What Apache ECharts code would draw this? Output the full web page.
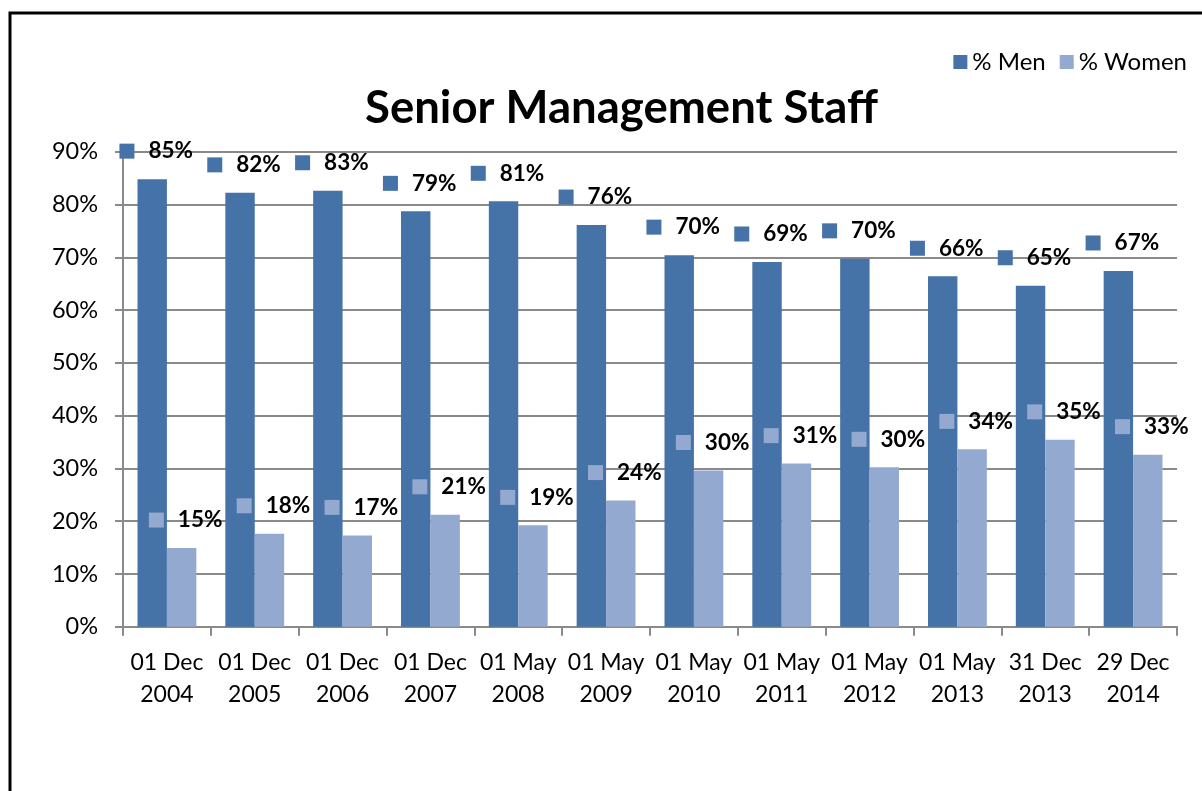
<!DOCTYPE html>
<html>
<head>
<meta charset="utf-8">
<script src="https://cdn.jsdelivr.net/npm/echarts@6/dist/echarts.min.js"></script>
<style>
html,body{margin:0;padding:0;background:#fff;}
#chart{width:1202px;height:791px;}
</style>
</head>
<body>
<div id="chart"></div>
<script>
var categories = ['01 Dec\n2004','01 Dec\n2005','01 Dec\n2006','01 Dec\n2007','01 May\n2008','01 May\n2009','01 May\n2010','01 May\n2011','01 May\n2012','01 May\n2013','31 Dec\n2013','29 Dec\n2014'];
var men = [84.8, 82.2, 82.6, 78.7, 80.6, 76.1, 70.4, 69.1, 69.7, 66.4, 64.6, 67.4];
var women = [14.9, 17.6, 17.3, 21.2, 19.2, 23.9, 29.6, 30.9, 30.2, 33.6, 35.4, 32.6];
var seriesNames = ['% Men', '% Women'];
var titleText = 'Senior Management Staff';

var MEN_COLOR = '#4572A7';
var WOMEN_COLOR = '#93A9CF';
var FONT = 'Lato';

function makeLabel(color) {
  return {
    show: true,
    position: 'top',
    distance: 17,
    offset: [4, 0],
    formatter: function (p) { return '{sq|}{gap|}{v|' + Math.round(p.value) + '%}'; },
    rich: {
      sq: { width: 15, height: 15, backgroundColor: color },
      gap: { width: 14, height: 15 },
      v: { fontFamily: FONT, fontSize: 22.5, fontWeight: 'bold', color: '#000', lineHeight: 22 }
    }
  };
}

var chart = echarts.init(document.getElementById('chart'), null, { renderer: 'canvas' });
chart.setOption({
  backgroundColor: '#fff',
  animation: false,
  title: {
    text: titleText,
    left: 365,
    top: 85,
    padding: 0,
    textStyle: { fontFamily: FONT, fontSize: 45.5, fontWeight: 'bold', color: '#000' }
  },
  legend: {
    data: seriesNames,
    right: 10,
    top: 45,
    itemWidth: 14,
    itemHeight: 14,
    itemGap: 14,
    icon: 'rect',
    textStyle: { fontFamily: FONT, fontSize: 24, color: '#000' }
  },
  grid: { left: 123, right: 25, top: 151.7, bottom: 164.3, containLabel: false },
  xAxis: {
    type: 'category',
    data: categories,
    axisLine: { lineStyle: { color: '#8a8a8a', width: 2 } },
    axisTick: { show: true, length: 9, lineStyle: { color: '#8a8a8a', width: 2 } },
    axisLabel: { fontFamily: FONT, fontSize: 23, color: '#000', lineHeight: 32, margin: 20, interval: 0 }
  },
  yAxis: {
    type: 'value',
    min: 0,
    max: 90,
    interval: 10,
    axisLine: { show: true, lineStyle: { color: '#8a8a8a', width: 2 } },
    axisTick: { show: true, length: 8, lineStyle: { color: '#8a8a8a', width: 2 } },
    axisLabel: { fontFamily: FONT, fontSize: 23.5, color: '#000', margin: 25, formatter: '{value}%' },
    splitLine: { show: true, lineStyle: { color: '#8a8a8a', width: 2 } }
  },
  series: [
    {
      name: seriesNames[0],
      type: 'bar',
      data: men,
      barGap: '0%',
      barCategoryGap: '33%',
      itemStyle: { color: MEN_COLOR },
      label: makeLabel(MEN_COLOR)
    },
    {
      name: seriesNames[1],
      type: 'bar',
      data: women,
      barGap: '0%',
      barCategoryGap: '33%',
      itemStyle: { color: WOMEN_COLOR },
      label: makeLabel(WOMEN_COLOR)
    }
  ],
  graphic: [
    {
      type: 'rect',
      silent: true,
      z: 100,
      shape: { x: 10, y: 13, width: 1500, height: 1000 },
      style: { fill: 'none', stroke: '#000', lineWidth: 3 }
    }
  ]
});
</script>
</body>
</html>
